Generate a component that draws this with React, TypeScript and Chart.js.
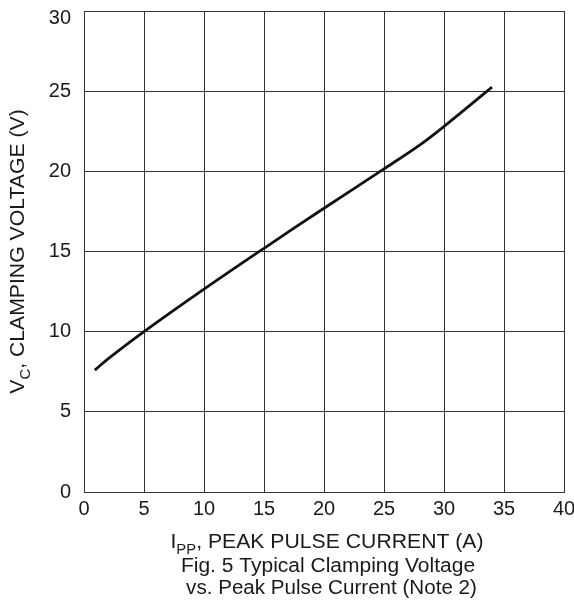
import React, { useEffect, useRef } from 'react';
import { Chart, registerables } from 'chart.js';

Chart.register(...registerables);

const currentA = [0.9, 2, 5, 10, 15, 20, 25, 28, 30, 34];
const clampV = [7.6, 8.3, 10.0, 12.65, 15.2, 17.7, 20.15, 21.65, 22.8, 25.25];
const xTickValues = [0, 5, 10, 15, 20, 25, 30, 35, 40];
const yTickValues = [0, 5, 10, 15, 20, 25, 30];
const xTitle = [
  { t: 'I', s: 20, dy: 0 },
  { t: 'PP', s: 14, dy: 6 },
  { t: ', PEAK PULSE CURRENT (A)', s: 20, dy: 0 },
];
const yTitle = [
  { t: 'V', s: 20, dy: 0 },
  { t: 'C', s: 14, dy: 6 },
  { t: ', CLAMPING VOLTAGE (V)', s: 20, dy: 0 },
];
const captionLines = ['Fig. 5 Typical Clamping Voltage', 'vs. Peak Pulse Current (Note 2)'];

const FONT = '"Liberation Sans", Arial, sans-serif';
const TEXT = '#1a1a1a';
const GRID = '#333333';

type Seg = { t: string; s: number; dy: number };

function drawRich(
  ctx: CanvasRenderingContext2D,
  segs: Seg[],
  cx: number,
  by: number,
  stretch = 1.06
) {
  ctx.save();
  ctx.translate(cx, by);
  ctx.scale(stretch, 1);
  let total = 0;
  const widths = segs.map((g) => {
    ctx.font = `${g.s}px ${FONT}`;
    const w = ctx.measureText(g.t).width;
    total += w;
    return w;
  });
  let x = -total / 2;
  ctx.textAlign = 'left';
  ctx.textBaseline = 'alphabetic';
  segs.forEach((g, i) => {
    ctx.font = `${g.s}px ${FONT}`;
    ctx.fillText(g.t, x, g.dy);
    x += widths[i];
  });
  ctx.restore();
}

const labelsPlugin = {
  id: 'labelsPlugin',
  afterDraw(chart: any) {
    const ctx: CanvasRenderingContext2D = chart.ctx;
    const a = chart.chartArea;
    const cx = (a.left + a.right) / 2 + 3;
    ctx.save();
    ctx.fillStyle = TEXT;
    drawRich(ctx, xTitle, cx, 548);
    drawRich(ctx, [{ t: captionLines[0], s: 20, dy: 0 }], cx + 1, 572, 1.05);
    drawRich(ctx, [{ t: captionLines[1], s: 20, dy: 0 }], cx + 4.5, 594, 1.03);
    // top y tick label sits a little below its grid line in the reference
    const yScale = chart.scales.y;
    const topVal = yTickValues[yTickValues.length - 1];
    ctx.font = `20px ${FONT}`;
    ctx.textAlign = 'right';
    ctx.textBaseline = 'middle';
    ctx.fillText(String(topVal), a.left - 13, yScale.getPixelForValue(topVal) + 7);
    ctx.restore();

    ctx.save();
    ctx.fillStyle = TEXT;
    ctx.translate(24, (a.top + a.bottom) / 2);
    ctx.rotate(-Math.PI / 2);
    drawRich(ctx, yTitle, 0, 0);
    ctx.restore();
  },
};

export default function App() {
  const ref = useRef<HTMLCanvasElement>(null);

  useEffect(() => {
    document.body.style.margin = '0';
    if (!ref.current) return;
    const chart = new Chart(ref.current, {
      type: 'line',
      data: {
        datasets: [
          {
            data: currentA.map((x, i) => ({ x, y: clampV[i] })),
            borderColor: '#111111',
            borderWidth: 2.8,
            pointRadius: 0,
            tension: 0.35,
            fill: false,
          },
        ],
      },
      options: {
        animation: false,
        responsive: false,
        devicePixelRatio: 1,
        layout: { padding: { top: 11, right: 10, left: 0, bottom: 0 } },
        plugins: { legend: { display: false }, tooltip: { enabled: false } },
        scales: {
          x: {
            type: 'linear',
            min: 0,
            max: 40,
            afterBuildTicks: (s: any) => {
              s.ticks = xTickValues.map((v) => ({ value: v }));
            },
            afterFit: (s: any) => {
              s.height = 110;
              s.paddingLeft = 0;
              s.paddingRight = 0;
            },
            ticks: { font: { family: FONT, size: 20 }, color: TEXT, padding: 5 },
            grid: { color: GRID, lineWidth: 1, drawTicks: false },
            border: { color: GRID, width: 1 },
          },
          y: {
            type: 'linear',
            min: 0,
            max: 30,
            afterBuildTicks: (s: any) => {
              s.ticks = yTickValues.map((v) => ({ value: v }));
            },
            afterFit: (s: any) => {
              s.width = 84;
              s.paddingTop = 0;
              s.paddingBottom = 0;
            },
            ticks: {
              font: { family: FONT, size: 20 },
              color: TEXT,
              padding: 13,
              callback: (v: any) => (v === yTickValues[yTickValues.length - 1] ? '' : String(v)),
            },
            grid: { color: GRID, lineWidth: 1, drawTicks: false },
            border: { color: GRID, width: 1 },
          },
        },
      },
      plugins: [labelsPlugin],
    });
    return () => chart.destroy();
  }, []);

  return (
    <div style={{ position: 'absolute', left: 0, top: 0, width: 574, height: 602 }}>
      <canvas ref={ref} width={574} height={602} style={{ width: 574, height: 602 }} />
    </div>
  );
}
